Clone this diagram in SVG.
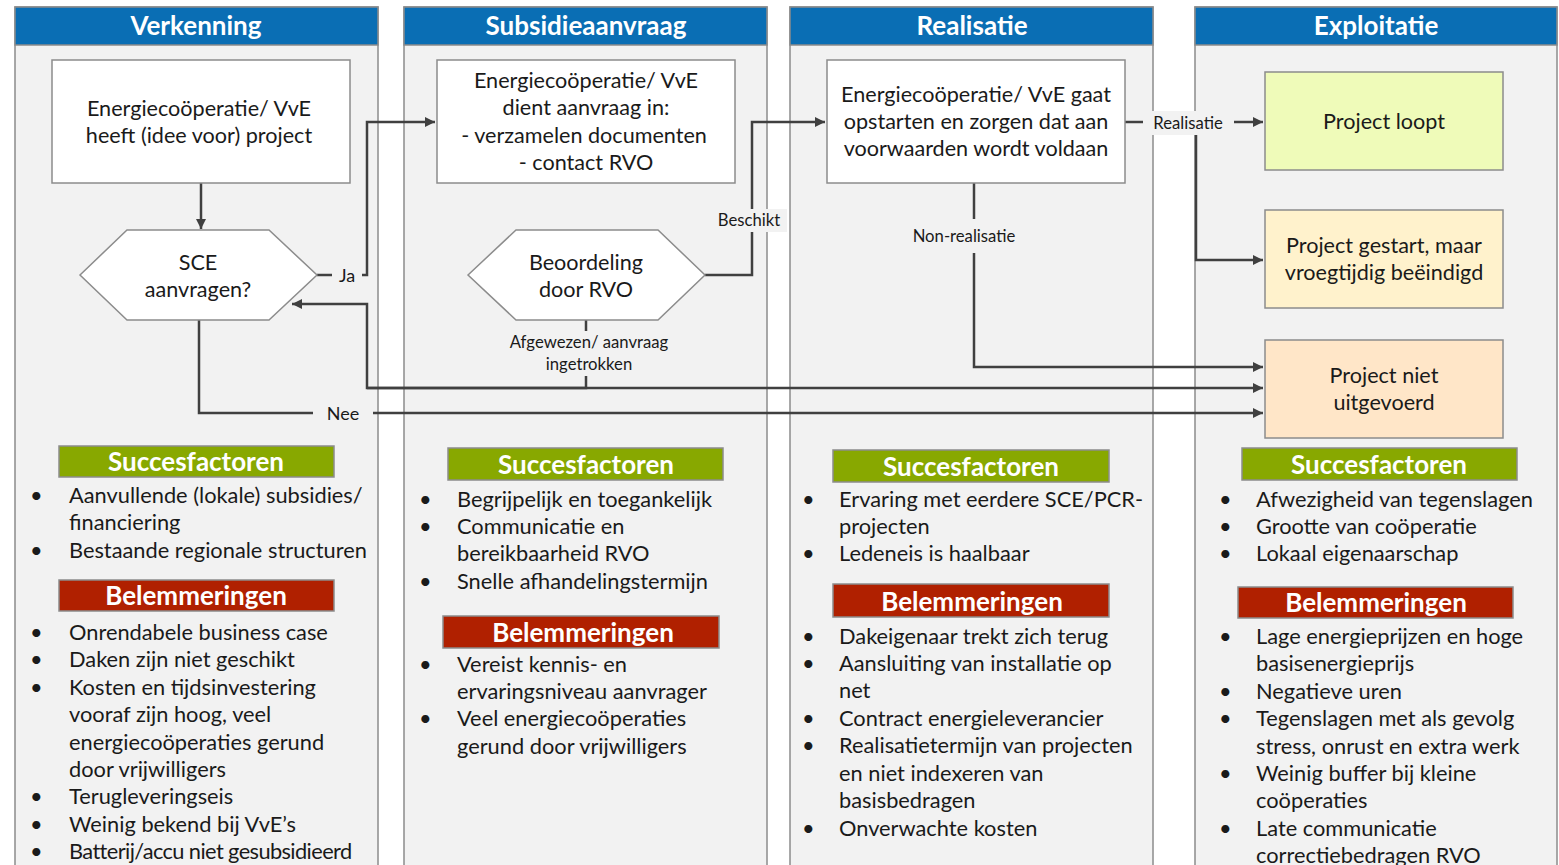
<svg xmlns="http://www.w3.org/2000/svg" width="1559" height="865" viewBox="0 0 1559 865">
<style>
.lane{fill:#F2F2F2;stroke:#8C8C8C;stroke-width:1.5}
.hdr{fill:#0A6EB4;stroke:#8C8C8C;stroke-width:1.5}
.ht{font-family:Lato,"Liberation Sans",sans-serif;font-weight:bold;font-size:26px;fill:#fff;text-anchor:middle}
.box{fill:#fff;stroke:#8C8C8C;stroke-width:1.5}
.t{font-family:Lato,"Liberation Sans",sans-serif;font-size:21.6px;fill:#1a1a1a;text-anchor:middle}
.b{font-family:Lato,"Liberation Sans",sans-serif;font-size:21.8px;fill:#1a1a1a}
.lbl{font-family:Lato,"Liberation Sans",sans-serif;font-size:16.7px;fill:#1a1a1a;text-anchor:middle}
.lbl2{font-family:Lato,"Liberation Sans",sans-serif;font-size:18px;fill:#1a1a1a;text-anchor:middle}
.sf{fill:#88A800;stroke:#8C8C8C;stroke-width:1.5}
.bl{fill:#B02000;stroke:#8C8C8C;stroke-width:1.5}
.st{font-family:Lato,"Liberation Sans",sans-serif;font-weight:bold;font-size:26px;fill:#fff;text-anchor:middle}
.c{fill:none;stroke:#404040;stroke-width:2.5}
.lb{fill:#F2F2F2}
</style>
<defs>
<marker id="ah" markerUnits="userSpaceOnUse" markerWidth="12" markerHeight="12" refX="10" refY="5" orient="auto">
<path d="M0,0 L10,5 L0,10 Z" fill="#404040"/>
</marker>
</defs>
<rect width="1559" height="865" fill="#fff"/>

<g id="lane-verkenning">
<rect class="lane" x="15" y="7" width="363" height="870"/>
<rect class="hdr" x="15" y="7" width="363" height="38"/>
<text class="ht" x="196" y="35">Verkenning</text>
</g>
<g id="lane-subsidieaanvraag">
<rect class="lane" x="404" y="7" width="363" height="870"/>
<rect class="hdr" x="404" y="7" width="363" height="38"/>
<text class="ht" x="586" y="35">Subsidieaanvraag</text>
</g>
<g id="lane-realisatie">
<rect class="lane" x="790" y="7" width="363" height="870"/>
<rect class="hdr" x="790" y="7" width="363" height="38"/>
<text class="ht" x="972" y="35">Realisatie</text>
</g>
<g id="lane-exploitatie">
<rect class="lane" x="1195" y="7" width="362" height="870"/>
<rect class="hdr" x="1195" y="7" width="362" height="38"/>
<text class="ht" x="1376" y="35">Exploitatie</text>
</g>

<g id="connectors">
<path class="c" d="M201,183 V229" marker-end="url(#ah)"/>
<path class="c" d="M317,275 H332"/>
<path class="c" d="M362,275 H367 V122 H435" marker-end="url(#ah)"/>
<path class="c" d="M586,320 V331"/>
<path class="c" d="M586,376 V388 H367 V304 H292" marker-end="url(#ah)"/>
<path class="c" d="M367,388 H1263" marker-end="url(#ah)"/>
<path class="c" d="M199,320 V413 H313"/>
<path class="c" d="M373,413 H1263" marker-end="url(#ah)"/>
<path class="c" d="M705,275 H752 V122 H825" marker-end="url(#ah)"/>
<path class="c" d="M974,183 V219"/>
<path class="c" d="M974,253 V367 H1263" marker-end="url(#ah)"/>
<path class="c" d="M1125,122 H1143"/>
<path class="c" d="M1234,122 H1263" marker-end="url(#ah)"/>
<path class="c" d="M1196,122 V260 H1263" marker-end="url(#ah)"/>
<text class="lbl2" x="347" y="282">Ja</text>
<text class="lbl2" x="343" y="420">Nee</text>
<text class="lbl" x="589" y="348">Afgewezen/ aanvraag</text>
<text class="lbl" x="589" y="370">ingetrokken</text>
<rect class="lb" x="715" y="209" width="72" height="23"/>
<text class="lbl" x="749" y="226">Beschikt</text>
<text class="lbl" x="964" y="242">Non-realisatie</text>
<rect class="lb" x="1148" y="111" width="80" height="24"/>
<text class="lbl" x="1188" y="129">Realisatie</text>
</g>

<g id="node-idee">
<rect class="box" x="52" y="60" width="298" height="123"/>
<text class="t" x="199" y="116">Energiecoöperatie/ VvE</text>
<text class="t" x="199" y="143">heeft (idee voor) project</text>
</g>
<g id="node-sce">
<polygon class="box" points="80,275 127,230 269,230 317,275 269,320 127,320"/>
<text class="t" x="198" y="270">SCE</text>
<text class="t" x="198" y="297">aanvragen?</text>
</g>
<g id="node-aanvraag">
<rect class="box" x="437" y="60" width="298" height="123"/>
<text class="t" x="586" y="88">Energiecoöperatie/ VvE</text>
<text class="t" x="586" y="115">dient aanvraag in:</text>
<text class="t" x="584" y="143">- verzamelen documenten</text>
<text class="t" x="586" y="170">- contact RVO</text>
</g>
<g id="node-beoordeling">
<polygon class="box" points="468,275 516,230 658,230 705,275 658,320 516,320"/>
<text class="t" x="586" y="270">Beoordeling</text>
<text class="t" x="586" y="297">door RVO</text>
</g>
<g id="node-opstarten">
<rect class="box" x="827" y="60" width="298" height="123"/>
<text class="t" x="976" y="102">Energiecoöperatie/ VvE gaat</text>
<text class="t" x="976" y="129">opstarten en zorgen dat aan</text>
<text class="t" x="976" y="156">voorwaarden wordt voldaan</text>
</g>
<g id="node-loopt">
<rect x="1265" y="72" width="238" height="98" fill="#EFFBB9" stroke="#8C8C8C" stroke-width="1.5"/>
<text class="t" x="1384" y="129">Project loopt</text>
</g>
<g id="node-gestart">
<rect x="1265" y="210" width="238" height="98" fill="#FFF2CC" stroke="#8C8C8C" stroke-width="1.5"/>
<text class="t" x="1384" y="253">Project gestart, maar</text>
<text class="t" x="1384" y="280">vroegtijdig beëindigd</text>
</g>
<g id="node-niet">
<rect x="1265" y="340" width="238" height="98" fill="#FFE6C8" stroke="#8C8C8C" stroke-width="1.5"/>
<text class="t" x="1384" y="383">Project niet</text>
<text class="t" x="1384" y="410">uitgevoerd</text>
</g>

<g id="lists-verkenning">
<rect class="sf" x="59" y="446" width="275" height="31"/>
<text class="st" x="196" y="471">Succesfactoren</text>
<text class="b" x="30" y="503">•</text><text class="b" x="69" y="503">Aanvullende (lokale) subsidies/</text>
<text class="b" x="69" y="530">financiering</text>
<text class="b" x="30" y="558">•</text><text class="b" x="69" y="558">Bestaande regionale structuren</text>
<rect class="bl" x="59" y="580" width="275" height="31"/>
<text class="st" x="196" y="605">Belemmeringen</text>
<text class="b" x="30" y="640">•</text><text class="b" x="69" y="640">Onrendabele business case</text>
<text class="b" x="30" y="667">•</text><text class="b" x="69" y="667">Daken zijn niet geschikt</text>
<text class="b" x="30" y="695">•</text><text class="b" x="69" y="695">Kosten en tijdsinvestering</text>
<text class="b" x="69" y="722">vooraf zijn hoog, veel</text>
<text class="b" x="69" y="750">energiecoöperaties gerund</text>
<text class="b" x="69" y="777">door vrijwilligers</text>
<text class="b" x="30" y="804">•</text><text class="b" x="69" y="804">Terugleveringseis</text>
<text class="b" x="30" y="832">•</text><text class="b" x="69" y="832">Weinig bekend bij VvE’s</text>
<text class="b" x="30" y="859">•</text><text class="b" x="69" y="859" letter-spacing="-0.6">Batterij/accu niet gesubsidieerd</text>
</g>

<g id="lists-subsidieaanvraag">
<rect class="sf" x="448" y="448" width="275" height="32"/>
<text class="st" x="586" y="474">Succesfactoren</text>
<text class="b" x="419" y="507">•</text><text class="b" x="457" y="507">Begrijpelijk en toegankelijk</text>
<text class="b" x="419" y="534">•</text><text class="b" x="457" y="534">Communicatie en</text>
<text class="b" x="457" y="561">bereikbaarheid RVO</text>
<text class="b" x="419" y="589">•</text><text class="b" x="457" y="589">Snelle afhandelingstermijn</text>
<rect class="bl" x="443" y="616" width="276" height="32"/>
<text class="st" x="583" y="642">Belemmeringen</text>
<text class="b" x="419" y="672">•</text><text class="b" x="457" y="672">Vereist kennis- en</text>
<text class="b" x="457" y="699">ervaringsniveau aanvrager</text>
<text class="b" x="419" y="726">•</text><text class="b" x="457" y="726">Veel energiecoöperaties</text>
<text class="b" x="457" y="754">gerund door vrijwilligers</text>
</g>

<g id="lists-realisatie">
<rect class="sf" x="833" y="450" width="276" height="32"/>
<text class="st" x="971" y="476">Succesfactoren</text>
<text class="b" x="802" y="507">•</text><text class="b" x="839" y="507">Ervaring met eerdere SCE/PCR-</text>
<text class="b" x="839" y="534">projecten</text>
<text class="b" x="802" y="561">•</text><text class="b" x="839" y="561">Ledeneis is haalbaar</text>
<rect class="bl" x="833" y="584" width="276" height="33"/>
<text class="st" x="972" y="611">Belemmeringen</text>
<text class="b" x="802" y="644">•</text><text class="b" x="839" y="644">Dakeigenaar trekt zich terug</text>
<text class="b" x="802" y="671">•</text><text class="b" x="839" y="671">Aansluiting van installatie op</text>
<text class="b" x="839" y="698">net</text>
<text class="b" x="802" y="726">•</text><text class="b" x="839" y="726">Contract energieleverancier</text>
<text class="b" x="802" y="753">•</text><text class="b" x="839" y="753">Realisatietermijn van projecten</text>
<text class="b" x="839" y="781">en niet indexeren van</text>
<text class="b" x="839" y="808">basisbedragen</text>
<text class="b" x="802" y="836">•</text><text class="b" x="839" y="836">Onverwachte kosten</text>
</g>

<g id="lists-exploitatie">
<rect class="sf" x="1242" y="448" width="275" height="32"/>
<text class="st" x="1379" y="474">Succesfactoren</text>
<text class="b" x="1219" y="507">•</text><text class="b" x="1256" y="507">Afwezigheid van tegenslagen</text>
<text class="b" x="1219" y="534">•</text><text class="b" x="1256" y="534">Grootte van coöperatie</text>
<text class="b" x="1219" y="561">•</text><text class="b" x="1256" y="561">Lokaal eigenaarschap</text>
<rect class="bl" x="1238" y="587" width="275" height="31"/>
<text class="st" x="1376" y="612">Belemmeringen</text>
<text class="b" x="1219" y="644">•</text><text class="b" x="1256" y="644">Lage energieprijzen en hoge</text>
<text class="b" x="1256" y="671">basisenergieprijs</text>
<text class="b" x="1219" y="699">•</text><text class="b" x="1256" y="699">Negatieve uren</text>
<text class="b" x="1219" y="726">•</text><text class="b" x="1256" y="726">Tegenslagen met als gevolg</text>
<text class="b" x="1256" y="754">stress, onrust en extra werk</text>
<text class="b" x="1219" y="781">•</text><text class="b" x="1256" y="781">Weinig buffer bij kleine</text>
<text class="b" x="1256" y="808">coöperaties</text>
<text class="b" x="1219" y="836">•</text><text class="b" x="1256" y="836">Late communicatie</text>
<text class="b" x="1256" y="863">correctiebedragen RVO</text>
</g>
</svg>
